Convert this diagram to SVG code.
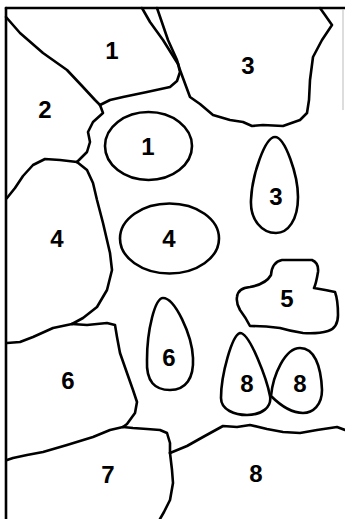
<svg xmlns="http://www.w3.org/2000/svg" width="345" height="519" viewBox="0 0 345 519">
<style>
.b{fill:none;stroke:#000;stroke-width:2.6;stroke-linejoin:round;stroke-linecap:round}
.s{fill:none;stroke:#000;stroke-width:2.6;stroke-linejoin:round}
.t{font-family:"Liberation Sans",Arial,sans-serif;font-size:24px;font-weight:bold;text-anchor:middle;fill:#000}
</style>
<rect width="345" height="519" fill="#fff"/>
<g id="connectors">
<path class="b" d="M6,8 L345,8"/>
<path class="b" d="M6,8 L6,519"/>
<path d="M343,9 L343,110" stroke="#bbb" stroke-width="1" fill="none"/>
<path class="b" d="M6,17 L20,33 L43,53 L67,70 L83,87 L95,100 L100,105"/>
<path class="b" d="M100,105 L110,100 L123,97 L147,92 L170,87 L177,81 L180,72 L178,64"/>
<path class="b" d="M178,64 L163,40 L150,22 L142,8"/>
<path class="b" d="M157,8 L168,40 L177,60 L180,70 L190,97 L200,104 L213,115 L230,120 L243,122 L252,126 L263,125 L283,126 L300,120 L307,113 L309,100 L310,80 L313,57 L322,40 L332,25 L325,15 L320,8"/>
<path class="b" d="M100,105 L103,113 L93,122 L88,132 L90,142 L87,152 L77,162"/>
<path class="b" d="M77,162 L60,160 L45,159 L33,165 L23,176 L15,188 L7,198"/>
<path class="b" d="M77,162 L87,170 L93,183 L97,200 L103,223 L110,253 L112,270 L107,290 L97,307 L83,318 L72,324"/>
<path class="b" d="M72,324 L53,328 L33,337 L20,342 L7,343"/>
<path class="b" d="M72,324 L87,325 L107,323 L115,325 L117,337 L120,353 L127,373 L133,390 L137,402 L135,413 L127,424 L123,427"/>
<path class="b" d="M123,427 L110,430 L93,437 L67,445 L43,452 L27,455 L13,458 L7,460"/>
<path class="b" d="M123,427 L133,428 L147,429 L160,430 L167,433 L170,443 L170,453"/>
<path class="b" d="M170,453 L172,470 L173,483 L170,500 L164,512 L160,519"/>
<path class="b" d="M170,453 L187,446 L203,437 L223,426 L237,427 L250,425 L267,429 L283,432 L300,433 L317,430 L337,427 L345,430"/>
</g>
<g id="region1"><text class="t" x="112" y="59">1</text></g>
<g id="region2"><text class="t" x="45" y="118">2</text></g>
<g id="region3"><text class="t" x="248" y="74">3</text></g>
<g id="region4"><text class="t" x="57" y="247">4</text></g>
<g id="region6"><text class="t" x="68" y="389">6</text></g>
<g id="region7"><text class="t" x="108" y="483">7</text></g>
<g id="region8"><text class="t" x="256" y="482">8</text></g>
<g id="oval1"><ellipse class="s" cx="148.5" cy="146" rx="43.5" ry="34"/><text class="t" x="148" y="155">1</text></g>
<g id="oval4"><ellipse class="s" cx="169.5" cy="238.5" rx="49.5" ry="35"/><text class="t" x="169" y="247">4</text></g>
<g id="drop3"><path class="s" d="M275,137 C285,137 298,175 298,197 C298,220 288,233 276,233 C262,233 250,220 251,200 C252,175 265,137 275,137 Z"/><text class="t" x="276" y="205">3</text></g>
<g id="blob5"><path class="s" d="M237,297 Q238,288 250,287 Q266,284 271,275 Q272,262 282,260 L312,260 Q319,263 318,272 Q316,284 314,288 Q326,290 335,292 Q338,300 338,315 Q338,328 328,331 Q318,334 303,333 Q290,331 280,328 Q263,326 250,326 Q246,318 240,310 Q236,303 237,297 Z"/><text class="t" x="287" y="307">5</text></g>
<g id="drop6"><path class="s" d="M163,298 C155,298 147,330 147,360 C146,382 155,390 170,390 C186,390 194,378 193,358 C192,335 175,298 163,298 Z"/><text class="t" x="169" y="366">6</text></g>
<g id="drop8a"><path class="s" d="M240,333 C232,335 221,375 221,398 C221,410 235,415 247,415 C262,415 272,407 270,396 C267,380 250,333 240,333 Z"/><text class="t" x="247" y="392">8</text></g>
<g id="drop8b"><path class="s" d="M271,396 C273,375 285,348 300,348 C314,348 321,365 322,390 C322,405 313,413 303,413 C292,413 280,405 271,396 Z"/><text class="t" x="300" y="392">8</text></g>
</svg>
